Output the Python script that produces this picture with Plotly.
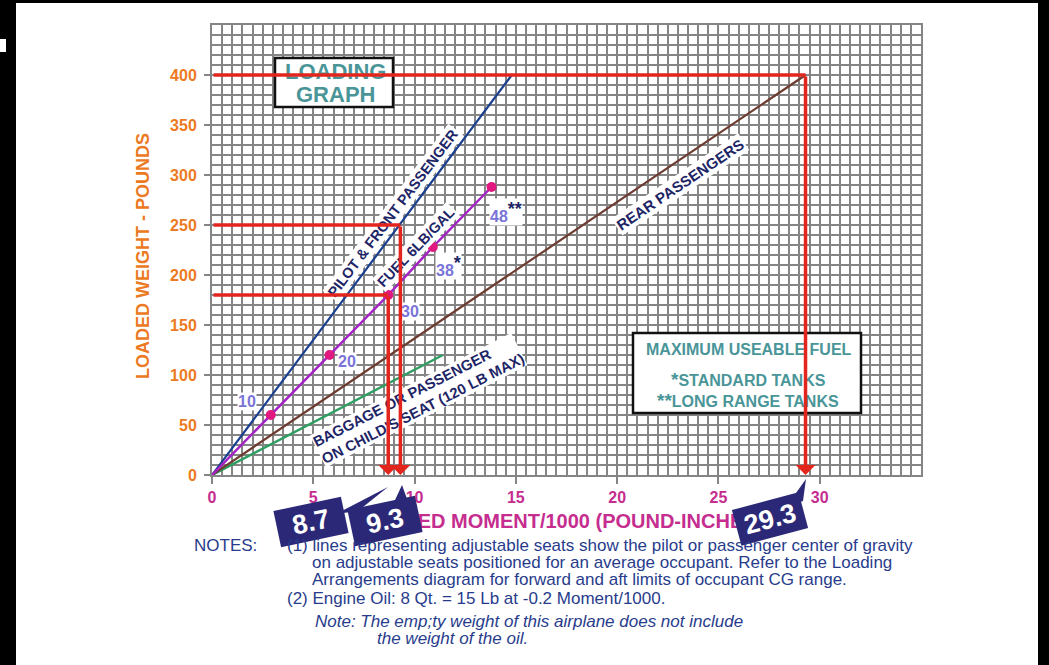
import plotly.graph_objects as go

# ---- loading graph data (moment in thousands of pound-inches) ----
pilot_moment = [0, 14.8]
pilot_weight = [0, 400]
rear_moment = [0, 29.3]
rear_weight = [0, 400]
baggage_moment = [0, 11.4]
baggage_weight = [0, 120]

fuel_gallons = [10, 20, 30, 38, 48]
fuel_weight = [60, 120, 180, 228, 288]
fuel_moment = [2.9, 5.8, 8.7, 10.9, 13.8]
fuel_marks = ["", "", "", "*", "**"]

# worked examples traced across the graph
example_weight = [180, 250, 400]
example_moment = [8.7, 9.3, 29.3]

x_ticks = [0, 5, 10, 15, 20, 25, 30]
y_ticks = [0, 50, 100, 150, 200, 250, 300, 350, 400]

# ---- styling ----
W, H = 1049, 665
ML, MR, MT, MB = 212, 128, 25, 190
PW, PH = W - ML - MR, H - MT - MB
X_RANGE = [0, 35]
Y_RANGE = [0, 450]

FONT = "Arial, Liberation Sans, sans-serif"
GRID = "#858585"
RED = "#e2261d"
TEAL = "#4a9598"
NAVY = "#1e2566"
TAG = "#2c2878"
ORANGE = "#ec7a22"
MAGENTA = "#c52d8f"
NOTE = "#283c8c"
NUM = "#7a74d8"


def px(x):
    """page x pixel -> paper fraction"""
    return (x - ML) / PW


def py(y):
    """page y pixel -> paper fraction"""
    return (H - MB - y) / PH


def dx(x):
    """page x pixel -> data moment"""
    return X_RANGE[0] + (x - ML) / PW * (X_RANGE[1] - X_RANGE[0])


def dy(y):
    """page y pixel -> data weight"""
    return Y_RANGE[0] + (H - MB - y) / PH * (Y_RANGE[1] - Y_RANGE[0])


fig = go.Figure()

# loading lines
fig.add_trace(go.Scatter(x=baggage_moment, y=baggage_weight, mode="lines",
                         line=dict(color="#2f9e62", width=2.5), showlegend=False))
fig.add_trace(go.Scatter(x=rear_moment, y=rear_weight, mode="lines",
                         line=dict(color="#6d3b30", width=2.2), showlegend=False))
fig.add_trace(go.Scatter(x=pilot_moment, y=pilot_weight, mode="lines",
                         line=dict(color="#1b3f90", width=2.2), showlegend=False))
fig.add_trace(go.Scatter(x=[0] + fuel_moment, y=[0] + fuel_weight, mode="lines",
                         line=dict(color="#a423c4", width=2.5), showlegend=False))
fig.add_trace(go.Scatter(x=fuel_moment, y=fuel_weight, mode="markers",
                         marker=dict(color="#e0187f", size=10), showlegend=False))

shapes = []
# white boxes over the grid
shapes.append(dict(type="rect", xref="x", yref="y", layer="between",
                   x0=dx(275), x1=dx(393), y0=dy(107), y1=dy(58),
                   fillcolor="white", line=dict(color="#111111", width=2.5)))
shapes.append(dict(type="rect", xref="x", yref="y", layer="between",
                   x0=dx(633), x1=dx(861), y0=dy(413), y1=dy(333),
                   fillcolor="white", line=dict(color="#111111", width=2.5)))

# pointers of the value tags
for pts in ([(336, 514), (358, 511), (388, 487)],
            [(390, 511), (410, 507), (402, 485)],
            [(786, 507), (803, 501), (806, 479)]):
    path = "M " + " L ".join(f"{px(a):.5f},{py(b):.5f}" for a, b in pts) + " Z"
    shapes.append(dict(type="path", xref="paper", yref="paper", layer="above",
                       path=path, fillcolor=TAG, line=dict(width=0)))

# dark frame around the page
for x0, x1, y0, y1 in ((0, 16, 0, H), (0, W, 0, 3), (1038, W, 0, H)):
    shapes.append(dict(type="rect", xref="paper", yref="paper", layer="above",
                       x0=px(x0), x1=px(x1), y0=py(y1), y1=py(y0),
                       fillcolor="black", line=dict(width=0)))
shapes.append(dict(type="rect", xref="paper", yref="paper", layer="above",
                   x0=px(0), x1=px(6), y0=py(52), y1=py(39),
                   fillcolor="white", line=dict(width=0)))

ann = []


def page_text(text, x, y, size, color, angle=0, anchor="center", **kw):
    ann.append(dict(x=px(x), y=py(y), xref="paper", yref="paper", text=text,
                    xanchor=anchor, yanchor="middle", textangle=angle,
                    showarrow=False, font=dict(family=FONT, size=size, color=color), **kw))


# boxed title
page_text("<b>LOADING</b>", 335, 71, 22, TEAL)
page_text("<b>GRAPH</b>", 335, 94, 22, TEAL)

# line labels
page_text("<b>PILOT &amp; FRONT PASSENGER</b>", 393, 213, 14.5, NAVY, angle=-53,
          bgcolor="white", borderpad=1)
page_text("<b>FUEL 6LB/GAL</b>", 416, 247, 14.5, NAVY, angle=-46,
          bgcolor="white", borderpad=1)
page_text("<b>REAR PASSENGERS</b>", 680, 184, 15, NAVY, angle=-34,
          bgcolor="white", borderpad=1)
page_text("<b>BAGGAGE OR PASSENGER<br>ON CHILD'S SEAT (120 LB MAX)</b>", 418, 400, 14.7,
          NAVY, angle=-27, bgcolor="white", borderpad=0, align="left")

# gallon labels beside the fuel points
shifts = [(-24, 14), (18, -6), (22, -16), (16, -19), (14, -25)]
for g, m, w, mark, (sx, sy) in zip(fuel_gallons, fuel_moment, fuel_weight, fuel_marks, shifts):
    txt = f"<b>{g}</b>"
    if mark:
        txt += f"<sup><span style='color:{NAVY};font-size:18px'><b>{mark}</b></span></sup>"
    ann.append(dict(x=m, y=w, xref="x", yref="y", text=txt, showarrow=False,
                    xshift=sx, yshift=sy, bgcolor="white", borderpad=0,
                    font=dict(family=FONT, size=16, color=NUM)))

# fuel capacity key
page_text("<b>MAXIMUM USEABLE FUEL</b>", 749, 349, 16, TEAL)
page_text("<b><span style='font-size:19px'>*</span>STANDARD TANKS</b>", 748, 379, 16, TEAL)
page_text("<b><span style='font-size:19px'>**</span>LONG RANGE TANKS</b>", 748, 400, 16, TEAL)

# red traces of the worked examples: across to the line, then down to the axis
for m, w in zip(example_moment, example_weight):
    ann.append(dict(x=m, y=w, xref="x", yref="y", ax=0, ay=w, axref="x", ayref="y",
                    text="", showarrow=True, arrowhead=0, arrowwidth=3.5,
                    arrowcolor=RED, standoff=0))
    ann.append(dict(x=m, y=0, xref="x", yref="y", ax=m, ay=w, axref="x", ayref="y",
                    text="", showarrow=True, arrowhead=1, arrowsize=0.95,
                    arrowwidth=3.5, arrowcolor=RED, standoff=0))

# axis titles
page_text("<b>LOADED WEIGHT - POUNDS</b>", 143, 256, 18, ORANGE, angle=-90)
page_text("<b>LOADED MOMENT/1000 (POUND-INCHES)</b>", 562, 521, 20, MAGENTA)

# value tags for the examples
for m, x, y, angle in zip(example_moment, (311, 385, 770), (522, 521, 519), (-12, -12, -15)):
    page_text(f"<b>{m}</b>", x, y, 27, "white", angle=angle,
              bgcolor=TAG, width=66, height=34, borderpad=1)

# notes
notes = [
    ("NOTES:", 192, 545, False),
    ("(1) lines representing adjustable seats show the pilot or passenger center of gravity", 285, 545, False),
    ("on adjustable seats positioned for an average occupant. Refer to the Loading", 310, 562, False),
    ("Arrangements diagram for forward and aft limits of occupant CG range.", 310, 579, False),
    ("(2) Engine Oil: 8 Qt. = 15 Lb at -0.2 Moment/1000.", 285, 598, False),
    ("Note: The emp;ty weight of this airplane does not include", 313, 621, True),
    ("the weight of the oil.", 375, 638, True),
]
for text, x, y, ital in notes:
    page_text(f"<i>{text}</i>" if ital else text, x, y, 17, NOTE, anchor="left")

fig.update_layout(
    width=W, height=H,
    margin=dict(l=ML, r=MR, t=MT, b=MB, pad=0),
    paper_bgcolor="white", plot_bgcolor="white",
    showlegend=False,
    shapes=shapes, annotations=ann,
    xaxis=dict(
        range=X_RANGE, tickvals=x_ticks, ticks="outside", ticklen=7, tickwidth=2,
        tickcolor=GRID, showgrid=True, gridcolor=GRID, gridwidth=2,
        minor=dict(dtick=0.5, tick0=0, showgrid=True, gridcolor=GRID, gridwidth=2),
        showline=True, linecolor=GRID, linewidth=2, mirror=True, zeroline=False,
        tickfont=dict(family=FONT, size=16, color=MAGENTA, weight="bold"),
        fixedrange=True,
    ),
    yaxis=dict(
        range=Y_RANGE, tickvals=y_ticks, ticks="outside", ticklen=6, tickwidth=2,
        tickcolor=GRID, showgrid=True, gridcolor=GRID, gridwidth=2,
        minor=dict(dtick=10, tick0=0, showgrid=True, gridcolor=GRID, gridwidth=2),
        showline=True, linecolor=GRID, linewidth=2, mirror=True, zeroline=False,
        tickfont=dict(family=FONT, size=16, color=ORANGE, weight="bold"),
        ticklabelstandoff=4, fixedrange=True,
    ),
)

fig.write_html("out.html")
